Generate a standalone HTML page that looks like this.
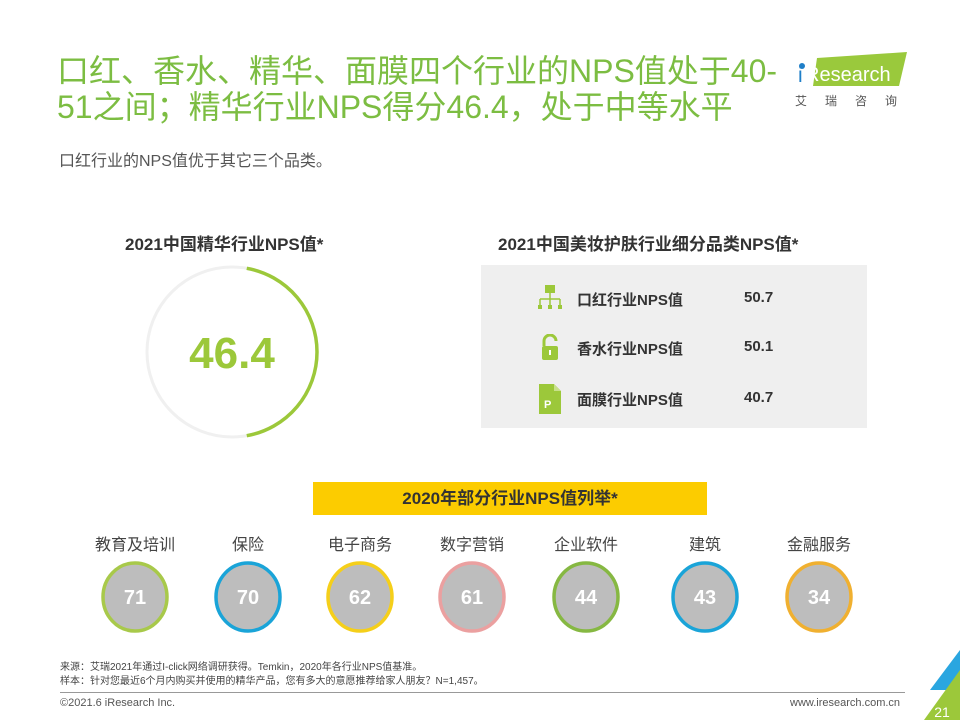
<!DOCTYPE html>
<html><head><meta charset="utf-8"><style>
body{margin:0;width:960px;height:720px;overflow:hidden;background:#fff;font-family:"Liberation Sans","Noto Sans CJK SC",sans-serif;position:relative}
.abs{position:absolute}
.title{left:57px;top:53px;font-size:32px;line-height:36px;color:#7cbd42;white-space:nowrap}
.sub{left:59px;top:147px;font-size:16px;color:#555}
.h{font-size:17px;font-weight:bold;color:#333;white-space:nowrap}
.row{position:absolute;left:535px;width:300px;height:30px;font-size:15px;font-weight:bold;color:#333}
</style></head><body>
<div class="abs title">口红、香水、精华、面膜四个行业的NPS值处于40-<br>51之间；精华行业NPS得分46.4，处于中等水平</div>
<div class="abs sub">口红行业的NPS值优于其它三个品类。</div>
<div class="abs" style="left:795px;top:52px;width:120px;height:60px">
<svg width="120" height="60"><polygon points="22,6 112,0 104,34 18,34" fill="#9ac93c"/><circle cx="7" cy="14" r="3" fill="#1f7fc8"/><text x="3" y="30" font-size="21" fill="#1f7fc8" font-family="Liberation Sans">i</text><text x="10" y="29" font-size="20" fill="#fff" font-family="Liberation Sans">Research</text><text x="0" y="53" font-size="12" fill="#555" letter-spacing="18" font-family="Noto Sans CJK SC">艾瑞咨询</text></svg></div>
<div class="abs h" style="left:125px;top:230px">2021中国精华行业NPS值*</div>
<svg class="abs" style="left:140px;top:260px" width="190" height="190">
<circle cx="92" cy="92" r="85" fill="none" stroke="#f0f0f0" stroke-width="3"/>
<path id="arc" fill="none" stroke="#9cc83a" stroke-width="3.5"/>
<text x="92" y="108" text-anchor="middle" font-size="44" font-weight="bold" fill="#9cc83a" font-family="Liberation Sans">46.4</text>
</svg>
<div class="abs h" style="left:498px;top:230px">2021中国美妆护肤行业细分品类NPS值*</div>
<div class="abs" style="left:481px;top:265px;width:386px;height:163px;background:#efefef"></div>
<div class="row" style="top:285px"><svg class="abs" style="left:2px;top:0" width="26" height="26"><rect x="8" y="0" width="10" height="8" fill="#9cc83a"/><path d="M13 8V14M3 14H23M3 14V20M13 14V20M23 14V20" stroke="#9cc83a" stroke-width="1.5" fill="none"/><rect x="1" y="20" width="4" height="4" fill="#9cc83a"/><rect x="11" y="20" width="4" height="4" fill="#9cc83a"/><rect x="21" y="20" width="4" height="4" fill="#9cc83a"/></svg><span class="abs" style="left:42px;top:4px">口红行业NPS值</span><span class="abs" style="left:209px;top:4px">50.7</span></div>
<div class="row" style="top:334px"><svg class="abs" style="left:5px;top:0" width="20" height="28"><path d="M4 12V7a6 6 0 0 1 12 0" stroke="#9cc83a" stroke-width="3" fill="none"/><rect x="2" y="12" width="16" height="14" rx="2" fill="#9cc83a"/><rect x="9" y="16" width="2" height="5" fill="#fff"/></svg><span class="abs" style="left:42px;top:4px">香水行业NPS值</span><span class="abs" style="left:209px;top:4px">50.1</span></div>
<div class="row" style="top:384px"><svg class="abs" style="left:4px;top:0" width="22" height="30"><path d="M0 0H15L22 7V30H0Z" fill="#9cc83a"/><path d="M15 0V7H22" fill="#c8e08a"/><text x="5" y="24" font-size="11" fill="#fff" font-family="Liberation Sans">P</text></svg><span class="abs" style="left:42px;top:5px">面膜行业NPS值</span><span class="abs" style="left:209px;top:5px">40.7</span></div>
<div class="abs" style="left:313px;top:482px;width:394px;height:33px;background:#fccc00;text-align:center;line-height:33px;font-size:17px;font-weight:bold;color:#333">2020年部分行业NPS值列举*</div>
<svg class="abs" id="bubbles" style="left:0;top:520px" width="960" height="120"></svg>
<div class="abs" style="left:60px;top:661px;font-size:10px;line-height:14px;color:#444">来源：艾瑞2021年通过I-click网络调研获得。Temkin，2020年各行业NPS值基准。<br>样本：针对您最近6个月内购买并使用的精华产品，您有多大的意愿推荐给家人朋友？N=1,457。</div>
<div class="abs" style="left:60px;top:692px;width:845px;height:1px;background:#999"></div>
<div class="abs" style="left:60px;top:697px;font-size:11px;color:#555">©2021.6 iResearch Inc.</div>
<div class="abs" style="left:790px;top:697px;font-size:11px;color:#555">www.iresearch.com.cn</div>
<svg class="abs" style="left:910px;top:650px" width="50" height="70"><polygon points="50,0 50,40 20,40" fill="#2aa6e0"/><polygon points="50,20 50,70 14,70" fill="#9cc83a"/><text x="32" y="67" font-size="14" fill="#fff" text-anchor="middle" font-family="Liberation Sans">21</text></svg>
<script>
var gaugeValue=46.4;
var arc=document.getElementById('arc');
(function(){var cx=92,cy=92,r=85,a0=-80*Math.PI/180,a1=80*Math.PI/180;
var x0=cx+r*Math.cos(a0),y0=cy+r*Math.sin(a0),x1=cx+r*Math.cos(a1),y1=cy+r*Math.sin(a1);
arc.setAttribute('d','M'+x0+' '+y0+' A'+r+' '+r+' 0 0 1 '+x1+' '+y1);})();
var industries=['教育及培训','保险','电子商务','数字营销','企业软件','建筑','金融服务'];
var npsValues=[71,70,62,61,44,43,34];
var ringColors=['#a8c94a','#1aa4d8','#f5cf1a','#eba0a0','#86b842','#1aa4d8','#f0b030'];
var centers=[135,248,360,472,586,705,819];
var svg=document.getElementById('bubbles'),NS='http://www.w3.org/2000/svg';
industries.forEach(function(n,i){
var t=document.createElementNS(NS,'text');t.setAttribute('x',centers[i]);t.setAttribute('y',30);t.setAttribute('text-anchor','middle');t.setAttribute('font-size','16');t.setAttribute('fill','#444');t.setAttribute('font-family','Liberation Sans, Noto Sans CJK SC, sans-serif');t.textContent=n;


svg.appendChild(t);
var c=document.createElementNS(NS,'ellipse');c.setAttribute('cx',centers[i]);c.setAttribute('cy',77);c.setAttribute('rx',32);c.setAttribute('ry',34);c.setAttribute('fill','#bdbdbd');c.setAttribute('stroke',ringColors[i]);c.setAttribute('stroke-width','3.5');


svg.appendChild(c);
var v=document.createElementNS(NS,'text');v.setAttribute('x',centers[i]);v.setAttribute('y',84);v.setAttribute('text-anchor','middle');v.setAttribute('font-size','20');v.setAttribute('font-weight','bold');v.setAttribute('fill','#fff');v.setAttribute('font-family','Liberation Sans');v.textContent=npsValues[i];


svg.appendChild(v);
});
</script>
</body></html>
